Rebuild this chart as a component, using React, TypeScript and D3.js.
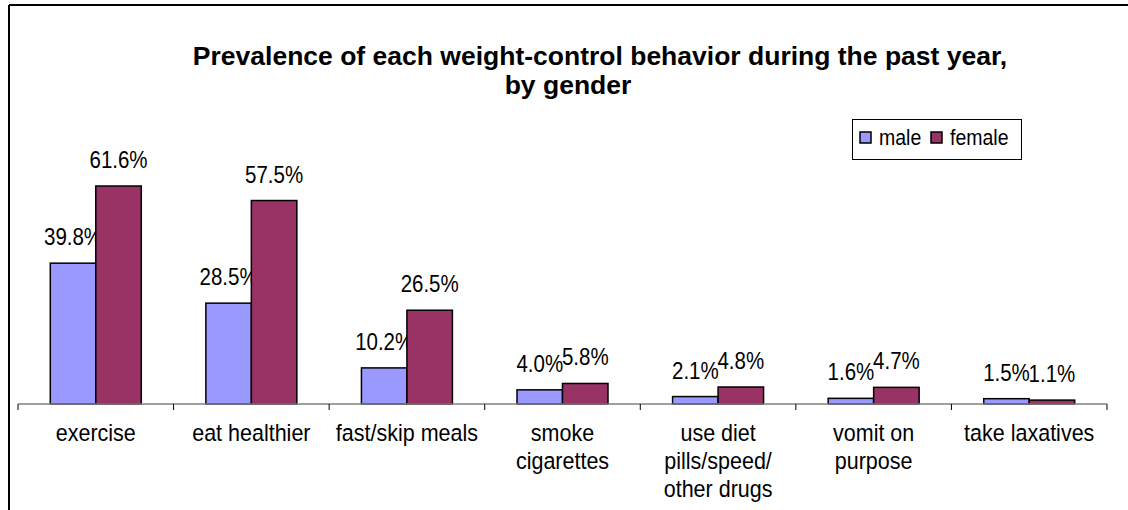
import React from "react";
import * as d3 from "d3";

const categories = [
  "exercise",
  "eat healthier",
  "fast/skip meals",
  "smoke cigarettes",
  "use diet pills/speed/ other drugs",
  "vomit on purpose",
  "take laxatives",
];
const categoryLines = [
  ["exercise"],
  ["eat healthier"],
  ["fast/skip meals"],
  ["smoke", "cigarettes"],
  ["use diet", "pills/speed/", "other drugs"],
  ["vomit on", "purpose"],
  ["take laxatives"],
];
const maleValues = [39.8, 28.5, 10.2, 4.0, 2.1, 1.6, 1.5];
const femaleValues = [61.6, 57.5, 26.5, 5.8, 4.8, 4.7, 1.1];
const seriesNames = ["male", "female"];
const seriesColors = ["#9999FF", "#993366"];

const W = 1128;
const H = 510;
const FONT = "Arial, Helvetica, sans-serif";

const T = ({ x, y, size = 20, bold = false, anchor = "middle", sy = 1.1, children }: any) => (
  <g transform={`translate(${x},${y}) scale(1,${sy})`}>
    <text
      fontFamily={FONT}
      fontSize={size}
      fontWeight={bold ? "bold" : "normal"}
      textAnchor={anchor}
      fill="#000"
    >
      {children}
    </text>
  </g>
);

export default function App() {
  const baseY = 404;
  const x = d3.scaleBand<string>().domain(categories).range([18, 1107]).padding(0);
  const x1 = d3
    .scaleBand<string>()
    .domain(seriesNames)
    .range([0, x.bandwidth()])
    .paddingInner(0)
    .paddingOuter(0.71);
  const y = d3.scaleLinear().domain([0, 70]).range([baseY, 156.3]);

  const series = [maleValues, femaleValues];
  const fmt = (v: number) => v.toFixed(1) + "%";

  return (
    <svg
      width={W}
      height={H}
      style={{ position: "absolute", left: 0, top: 0, background: "#fff" }}
    >
      <rect x={0} y={0} width={W} height={H} fill="#fff" />
      {/* chart border, cut off at right and bottom */}
      <line x1={9} y1={5} x2={W} y2={5} stroke="#000" strokeWidth={2} />
      <line x1={9} y1={5} x2={9} y2={H} stroke="#000" strokeWidth={2} />

      <T x={600} y={65} size={26.5} bold sy={1.0}>
        Prevalence of each weight-control behavior during the past year,
      </T>
      <T x={568} y={94} size={26.5} bold sy={1.0}>
        by gender
      </T>

      {/* legend */}
      <rect x={852.5} y={119.5} width={169} height={40} fill="#fff" stroke="#000" strokeWidth={1} />
      {seriesNames.map((s, i) => {
        const lx = i === 0 ? 860 : 931;
        return (
          <g key={s}>
            <rect x={lx} y={132} width={11} height={11} fill={seriesColors[i]} stroke="#000" strokeWidth={1.5} />
            <T x={lx + 19} y={145} size={19.5} anchor="start" sy={1.15}>
              {s}
            </T>
          </g>
        );
      })}

      {/* bars */}
      {categories.map((c, ci) => (
        <g key={c}>
          {series.map((vals, si) => {
            const bx = (x(c) ?? 0) + (x1(seriesNames[si]) ?? 0);
            const bw = x1.bandwidth();
            const top = y(vals[ci]);
            return (
              <g key={si}>
                <rect
                  x={bx}
                  y={top}
                  width={bw}
                  height={baseY - top}
                  fill={seriesColors[si]}
                  stroke="#000"
                  strokeWidth={1.5}
                />
                <T x={bx + bw / 2} y={top - 18} size={20.5} sy={1.15}>
                  {fmt(vals[ci])}
                </T>
              </g>
            );
          })}
        </g>
      ))}

      {/* x axis */}
      <line x1={18} y1={baseY} x2={1107} y2={baseY} stroke="#808080" strokeWidth={1.5} />
      {[...categories.map((c) => x(c) ?? 0), 1107].map((tx, i) => (
        <line key={i} x1={tx} y1={baseY} x2={tx} y2={baseY + 6} stroke="#000" strokeWidth={1} />
      ))}
      {categories.map((c, ci) =>
        categoryLines[ci].map((ln, li) => (
          <T key={c + li} x={(x(c) ?? 0) + x.bandwidth() / 2} y={441 + li * 28} size={21.5}>
            {ln}
          </T>
        ))
      )}
    </svg>
  );
}
